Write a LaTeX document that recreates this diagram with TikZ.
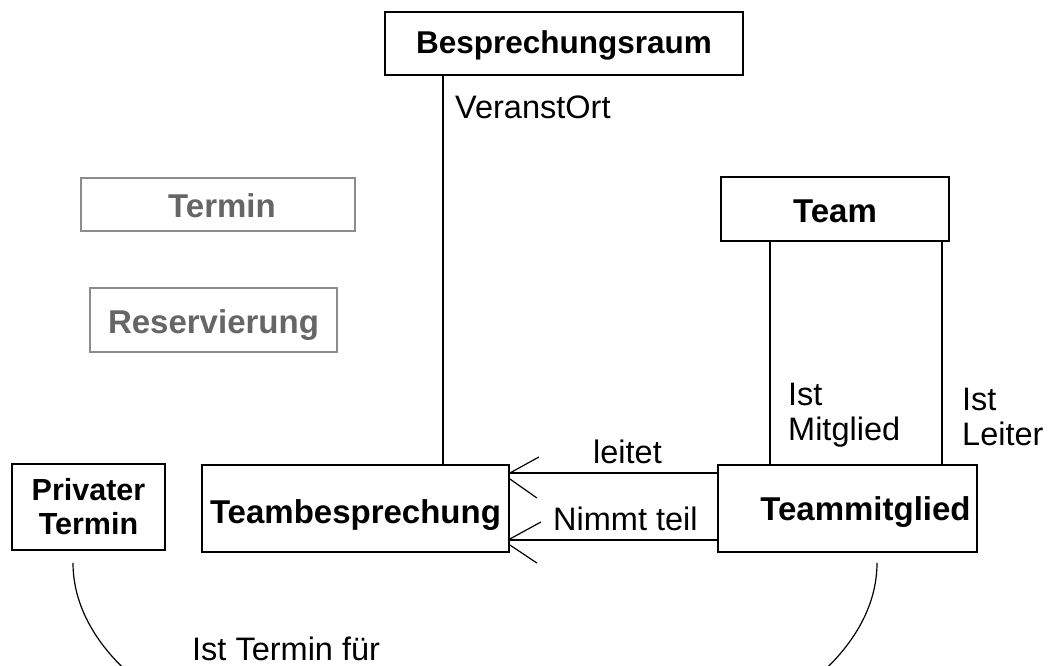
\documentclass[tikz,border=0pt]{standalone}
\usepackage{fontspec}
\setmainfont{Liberation Sans}
\usetikzlibrary{calc}
\definecolor{boxgray}{gray}{0.55}
\definecolor{textgray}{gray}{0.40}
\begin{document}
\begin{tikzpicture}[x=1pt,y=-1pt,
  every node/.style={inner sep=0pt, font=\fontsize{32.5}{35}\selectfont},
  entity/.style={draw, line width=1.8pt, fill=white,
                 font=\fontsize{33}{35}\selectfont\bfseries},
  faded/.style={draw=boxgray, line width=1.4pt, fill=white, text=textgray,
                font=\fontsize{33}{35}\selectfont\bfseries},
  baseoff/.style={text height=#1, text depth=0pt},
  link/.style={line width=1.6pt},
  prong/.style={line width=1.2pt},
  lbl/.style={anchor=base west}
]
\useasboundingbox (0,0) rectangle (1055,666);
\clip (0,0) rectangle (1055,666);

% entity boxes
\node[entity, minimum width=358pt, minimum height=63pt, baseoff=19.5pt,
      font=\fontsize{31.5}{35}\selectfont\bfseries] (br) at (564,43.5) {Besprechungsraum};
\node[faded, minimum width=274pt, minimum height=53pt, baseoff=26pt] (termin) at (218,204.5) {\hspace*{8pt}Termin};
\node[faded, minimum width=247pt, minimum height=64pt, baseoff=26pt] (res) at (213.5,320) {Reservierung};
\node[entity, minimum width=228pt, minimum height=64pt, baseoff=26pt] (team) at (835,209) {Team};
\node[entity, minimum width=153pt, minimum height=86pt, align=center,
      font=\fontsize{30.5}{34}\selectfont\bfseries] (pt) at (88.5,507) {Privater\\Termin};
\node[entity, minimum width=307pt, minimum height=87pt, baseoff=29pt] (tb) at (355.5,508.5) {Teambesprechung};
\node[entity, minimum width=259pt, minimum height=87pt, baseoff=23pt] (tm) at (847.5,508.5) {\hspace*{36pt}Teammitglied};

% associations
\draw[link] (br.south -| 443,0) -- (tb.north -| 443,0);
\draw[link] (team.south -| 770,0) -- (tm.north -| 770,0);
\draw[link] (team.south -| 942,0) -- (tm.north -| 942,0);

\draw[link] (tm.west |- 0,473) -- (tb.east |- 0,473);
\draw[prong] (tb.east |- 0,473) -- ++(29,-16)
             (tb.east |- 0,479) -- ++(27,19);
\draw[link] (tm.west |- 0,540) -- (tb.east |- 0,540);
\draw[prong] (tb.east |- 0,539) -- ++(31,-17)
             (tb.east |- 0,545) -- ++(27,18);

\draw[prong] ($(pt.south)+(-15.5,12)$) coordinate (arcstart)
  arc[start angle=180, end angle=0, x radius=402, y radius=217];

% role names (multi-line nodes sit on the baseline of their last line)
\node[lbl] (vo) at (455,119) {VeranstOrt};
\node[lbl] (leitet) at (593,463) {leitet};
\node[lbl] (nimmt) at (553,530) {Nimmt teil};
\node[lbl, align=left] (mitgl) at (788,440) {Ist\\Mitglied};
\node[lbl, align=left] (leiter) at (962,445) {Ist\\Leiter};
\node[lbl] (ist) at (192,660) {Ist Termin für};
\end{tikzpicture}
\end{document}
